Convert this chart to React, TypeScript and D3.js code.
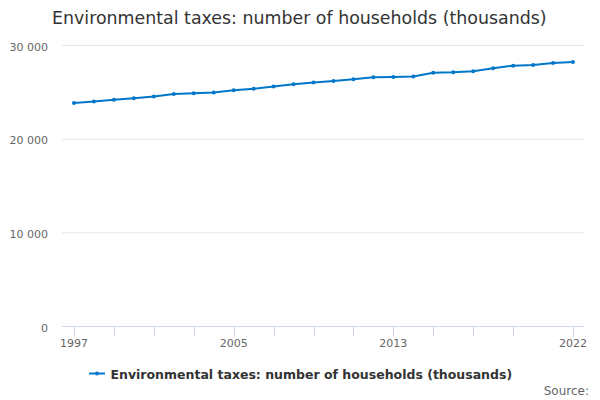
import React from "react";
import * as d3 from "d3";

const years: number[] = [1997, 1998, 1999, 2000, 2001, 2002, 2003, 2004, 2005, 2006, 2007, 2008, 2009, 2010, 2011, 2012, 2013, 2014, 2015, 2016, 2017, 2018, 2019, 2020, 2021, 2022];
const households: number[] = [23850, 24020, 24200, 24380, 24550, 24810, 24910, 24980, 25210, 25370, 25620, 25870, 26040, 26220, 26400, 26620, 26650, 26680, 27100, 27150, 27250, 27570, 27850, 27930, 28140, 28250];
const yTicks: number[] = [0, 10000, 20000, 30000];
const xTicks: number[] = [1997, 1999, 2001, 2003, 2005, 2007, 2009, 2011, 2013, 2015, 2017, 2019, 2022];
const xLabels: number[] = [1997, 2005, 2013, 2022];
const title = "Environmental taxes: number of households (thousands)";
const seriesName = "Environmental taxes: number of households (thousands)";

const W = 600;
const H = 400;
const FONT = "'DejaVu Sans', sans-serif";
const COLOR = "#0077c8";

export default function App() {
  const x = d3.scaleLinear().domain([1997, 2022]).range([74, 573]);
  const y = d3.scaleLinear().domain([0, 30000]).range([326.5, 45.5]);
  const plotLeft = 62;
  const plotRight = 584;
  const fmt = (v: number) => d3.format(",")(v).replace(/,/g, " ");
  const line = d3
    .line<number>()
    .x((_, i) => x(years[i]))
    .y((d) => y(d));

  return (
    <svg
      width={W}
      height={H}
      style={{ position: "absolute", left: 0, top: 0, background: "#fff" }}
      fontFamily={FONT}
    >
      <rect width={W} height={H} fill="#fff" />
      <text x={52} y={24} fontSize={17.4} fill="#333">
        {title}
      </text>
      {yTicks.map((t) => (
        <g key={t}>
          {t > 0 && (
            <line x1={plotLeft} x2={plotRight} y1={y(t)} y2={y(t)} stroke="#e6e6e6" />
          )}
          <text x={48} y={y(t) + 5} fontSize={11} fill="#666" textAnchor="end">
            {fmt(t)}
          </text>
        </g>
      ))}
      <line x1={plotLeft} x2={plotRight} y1={326.5} y2={326.5} stroke="#ccd6eb" />
      {xTicks.map((t) => (
        <line key={t} x1={Math.round(x(t)) + 0.5} x2={Math.round(x(t)) + 0.5} y1={326.5} y2={336.5} stroke="#ccd6eb" />
      ))}
      {xLabels.map((t) => (
        <text key={t} x={x(t)} y={346.5} fontSize={11} fill="#666" textAnchor="middle">
          {t}
        </text>
      ))}
      <path d={line(households) || ""} fill="none" stroke={COLOR} strokeWidth={2} strokeLinejoin="round" />
      {households.map((v, i) => (
        <circle key={i} cx={x(years[i])} cy={y(v)} r={2} fill={COLOR} />
      ))}
      <g>
        <line x1={89} x2={105} y1={373.5} y2={373.5} stroke={COLOR} strokeWidth={2} />
        <circle cx={97} cy={373.5} r={2} fill={COLOR} />
        <text x={110.5} y={378.5} fontSize={12.5} fontWeight="bold" fill="#333">
          {seriesName}
        </text>
      </g>
      <text x={589} y={395} fontSize={12} fill="#666" textAnchor="end">
        Source:
      </text>
    </svg>
  );
}
